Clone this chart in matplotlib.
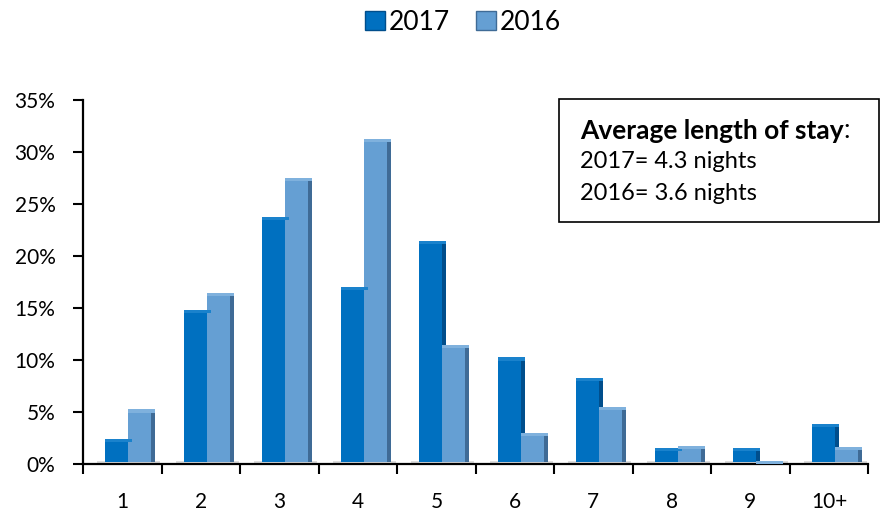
import numpy as np
import matplotlib
matplotlib.use("Agg")
import matplotlib.pyplot as plt
from matplotlib.patches import Rectangle, Patch
from matplotlib.text import Annotation
from matplotlib.ticker import PercentFormatter, FixedLocator

plt.rcParams["font.family"] = ["Lato", "DejaVu Sans"]

CATEGORIES = ["1", "2", "3", "4", "5", "6", "7", "8", "9", "10+"]
VALUES_2017 = [2.3, 14.7, 23.6, 16.9, 21.3, 10.1, 8.1, 1.4, 1.4, 3.7]
VALUES_2016 = [5.1, 16.3, 27.4, 31.1, 11.3, 2.8, 5.3, 1.6, 0.1, 1.5]
YEARS = ["2017", "2016"]

FRONT = {"2017": "#0070C0", "2016": "#659FD3"}
SIDE = {"2017": "#004E8C", "2016": "#3F6B96"}
TOP = {"2017": "#1A82CC", "2016": "#7FB1DD"}

fig = plt.figure(figsize=(8.85, 5.19), dpi=100)
ax = fig.add_axes([0.094, 0.106, 0.887, 0.701])

x = np.arange(len(CATEGORIES))
width = 0.295
depth = 0.05

# floor shadow under each group
for xi in x:
    ax.bar(xi + 0.08, 0.3, width=0.8, bottom=0.0, color="#CFCFCF", alpha=0.7, zorder=1)

for k, (year, vals) in enumerate(zip(YEARS, [VALUES_2017, VALUES_2016])):
    left = x - 0.22 + k * width
    vals = np.array(vals)
    # side face
    ax.bar(left + width, vals, width=depth, bottom=0.15, align="edge",
           color=SIDE[year], zorder=2)
    # front face
    ax.bar(left, vals, width=width, bottom=0.15, align="edge",
           color=FRONT[year], zorder=3)
    # bevelled top
    ax.bar(left, 0.3, width=width + depth, bottom=vals - 0.15, align="edge",
           color=TOP[year], zorder=4)

ax.set_xlim(-0.5, len(CATEGORIES) - 0.5)
ax.set_ylim(0, 35)
ax.yaxis.set_major_locator(FixedLocator(np.arange(0, 36, 5)))
ax.yaxis.set_major_formatter(PercentFormatter(decimals=0))
ax.set_xticks(x)
ax.set_xticklabels(CATEGORIES)
ax.set_xticks(np.arange(-0.5, len(CATEGORIES)), minor=True)
ax.tick_params(axis="x", which="major", length=0, pad=20, labelsize=15)
ax.tick_params(axis="x", which="minor", length=7, width=1.5, direction="out")
ax.tick_params(axis="y", length=7, width=1.5, direction="out", labelsize=15, pad=13)

for side in ["top", "right"]:
    ax.spines[side].set_visible(False)
for side in ["left", "bottom"]:
    ax.spines[side].set_linewidth(1.6)

handles = [Patch(facecolor=FRONT[y], edgecolor=SIDE[y], label=y) for y in YEARS]
fig.legend(handles=handles, loc="center", bbox_to_anchor=(0.523, 0.957), ncol=2,
           frameon=False, fontsize=19, handlelength=0.75, handleheight=0.75,
           handletextpad=0.15, columnspacing=1.0)

# info box
fig.patches.append(Rectangle((0.632, 0.572), 0.361, 0.237, transform=fig.transFigure,
                             facecolor="white", edgecolor="black", linewidth=1.2, zorder=5))
t = fig.text(0.655, 0.747, "Average length of stay", fontsize=19, fontweight="bold",
             va="center", zorder=6)
colon = Annotation(":", xy=(1, 0), xycoords=t, va="bottom", fontsize=19,
                   annotation_clip=False, zorder=6)
fig.add_artist(colon)
fig.text(0.655, 0.688, "2017= 4.3 nights", fontsize=17, va="center", zorder=6)
fig.text(0.655, 0.628, "2016= 3.6 nights", fontsize=17, va="center", zorder=6)

fig.savefig("out.png", dpi=100)
